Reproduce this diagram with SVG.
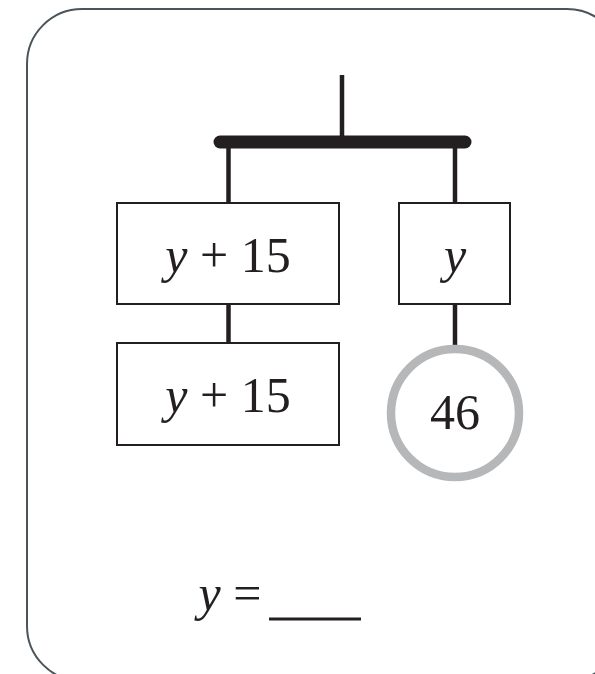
<svg xmlns="http://www.w3.org/2000/svg" width="595" height="674" viewBox="0 0 595 674">
<style>
.frame{fill:none;stroke:#4a555b;stroke-width:2}
.box{fill:#fff;stroke:#231f20;stroke-width:2}
.wire{stroke:#231f20;stroke-width:4.5;fill:none}
.bar{stroke:#231f20;stroke-width:13;stroke-linecap:round;fill:none}
.ring{fill:#fff;stroke:#b6b7b9;stroke-width:8.5}
.t{font-family:'Liberation Serif','DejaVu Serif',serif;font-size:50px;fill:#231f20;text-anchor:middle}
.i{font-style:italic}
</style>
<rect class="frame" x="27" y="9" width="595" height="672" rx="55" ry="55"/>
<g id="connectors">
<line class="wire" x1="342" y1="75" x2="342" y2="142"/>
<line class="bar" x1="220" y1="142" x2="465" y2="142"/>
<line class="wire" x1="228.5" y1="142" x2="228.5" y2="204"/>
<line class="wire" x1="455" y1="142" x2="455" y2="204"/>
<line class="wire" x1="228.5" y1="304" x2="228.5" y2="344"/>
<line class="wire" x1="455" y1="304" x2="455" y2="346"/>
</g>
<g id="box1">
<rect class="box" x="117" y="203" width="222" height="101"/>
<text class="t" x="228" y="272"><tspan class="i">y</tspan> + 15</text>
</g>
<g id="box2">
<rect class="box" x="117" y="343" width="222" height="102"/>
<text class="t" x="228" y="412"><tspan class="i">y</tspan> + 15</text>
</g>
<g id="box3">
<rect class="box" x="399" y="203" width="111" height="101"/>
<text class="t i" x="455" y="272">y</text>
</g>
<g id="circle46">
<circle class="ring" cx="455" cy="413" r="64"/>
<text class="t" x="455" y="429">46</text>
</g>
<g id="answer">
<text class="t" x="230" y="610"><tspan class="i">y</tspan> =</text>
<line x1="269" y1="619" x2="361" y2="619" stroke="#231f20" stroke-width="3"/>
</g>
</svg>
